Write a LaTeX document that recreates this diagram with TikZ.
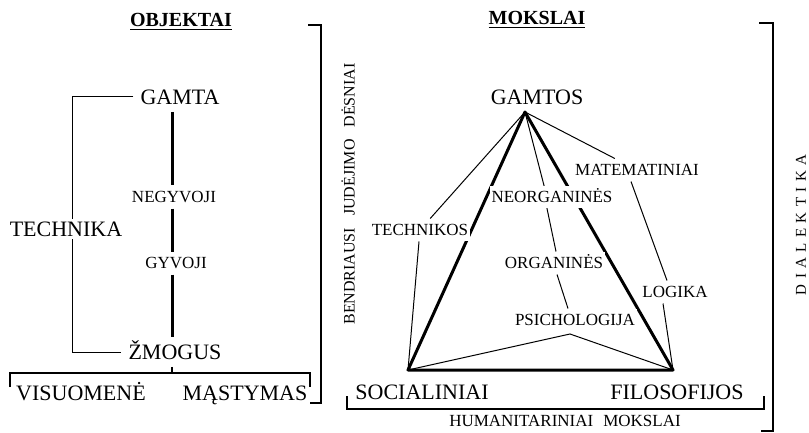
\documentclass[tikz,border=0pt]{standalone}
\usepackage{fontspec}
\setmainfont{Liberation Serif}
\usetikzlibrary{backgrounds}
\newcommand{\ls}{\kern2.7pt}

\begin{document}
\begin{tikzpicture}[x=0.5pt,y=-0.5pt,
  big/.style={font=\fontsize{11}{13}\selectfont,text height=7.5pt,text depth=0.4pt},
  small/.style={font=\fontsize{8.5}{10}\selectfont,text height=5.8pt,text depth=0.3pt,inner xsep=1pt,inner ysep=2.5pt,fill=white},
  side/.style={font=\fontsize{8}{10}\selectfont,rotate=90},
  ttl/.style={font=\fontsize{10}{12}\selectfont\bfseries},
  thickln/.style={line width=1.5pt},
  thinln/.style={line width=0.5pt},
  brk/.style={line width=1.2pt}]
\useasboundingbox (0,0) rectangle (809,433);
\node[ttl](objektai) at (181,22){\underline{OBJEKTAI}};
\node[big](gamta) at (180,97){GAMTA};
\node[small](negyvoji) at (174,197){NEGYVOJI};
\node[small](gyvoji) at (176,263){GYVOJI};
\node[big](zmogus) at (175,352){ŽMOGUS};
\node[big,inner sep=1pt](technika) at (66,229){TECHNIKA};
\node[big](visuomene) at (81,393){VISUOMENĖ};
\node[big](mastymas) at (245,393){MĄSTYMAS};
\coordinate (fork) at (172,373);
\draw[thickln](gamta.south -| fork)--(negyvoji.north -| fork); \draw[thickln](negyvoji.south -| fork)--(gyvoji.north -| fork); \draw[thickln](gyvoji.south -| fork)--(zmogus.north -| fork);
\draw[thinln](gamta.west) -| ([xshift=3pt]technika.north); \draw[thinln]([xshift=3pt]technika.south) |- (zmogus.west);
\draw[brk](zmogus.south -| fork)--(fork);
\draw[brk](10,387)--(10,373)--(310,373)--(310,387);
\draw[brk](308,25)--(321,25)--(321,403)--(310,403);
\node[ttl](mokslai) at (537,20){\underline{MOKSLAI}};
\node[big](gamtos) at (537,97){GAMTOS};
\coordinate (top) at (525,112);
\coordinate (soc) at (408,370);
\coordinate (fil) at (673,370);
\coordinate (psb) at (570,334);
\node[big](socialiniai) at (422,392){SOCIALINIAI};
\node[big](filosofijos) at (677,392){FILOSOFIJOS};
\node[small](technikos) at (420,230){TECHNIKOS};
\node[small](neorg) at (552,197){NEORGANINĖS};
\node[small](org) at (554,263){ORGANINĖS};
\node[small](psich) at (575,320){PSICHOLOGIJA};
\node[small](mat) at (637,170){MATEMATINIAI};
\node[small](logika) at (675,292){LOGIKA};
\begin{scope}[on background layer]
\draw[thickln,line join=round](top)--(soc)--(fil)--cycle;
\draw[thinln](top)--(technikos)--(soc); \draw[thinln](top)--([xshift=-4pt]neorg.north)--([xshift=-2.5pt]neorg.south)--([xshift=1pt]org.north);
\draw[thinln]([xshift=1.5pt]org.south)--([xshift=-3.5pt]psich.north);
\draw[thinln](soc)--(psb)--(fil);
\draw[thinln](top)--(mat); \draw[thinln]([xshift=-3pt]mat.south)--([xshift=-4pt]logika.north); \draw[thinln]([xshift=-6pt]logika.south)--(fil);
\end{scope}
\node[small](humanit) at (565,421){HUMANITARINIAI\hspace{5pt}MOKSLAI};
\draw[brk](347,396)--(347,409)--(764,409)--(764,396);
\draw[brk](759,23)--(773,23)--(773,431)--(761,431);
\node[side](desniai) at (348,194){BENDRIAUSI\hspace{6pt}JUDĖJIMO\hspace{6pt}DĖSNIAI};
\node[side,font=\fontsize{7.5}{9}\selectfont](dialektika) at (801,225){D\ls I\ls A\ls L\ls E\ls K\ls T\ls I\ls K\ls A};
\end{tikzpicture}
\end{document}
